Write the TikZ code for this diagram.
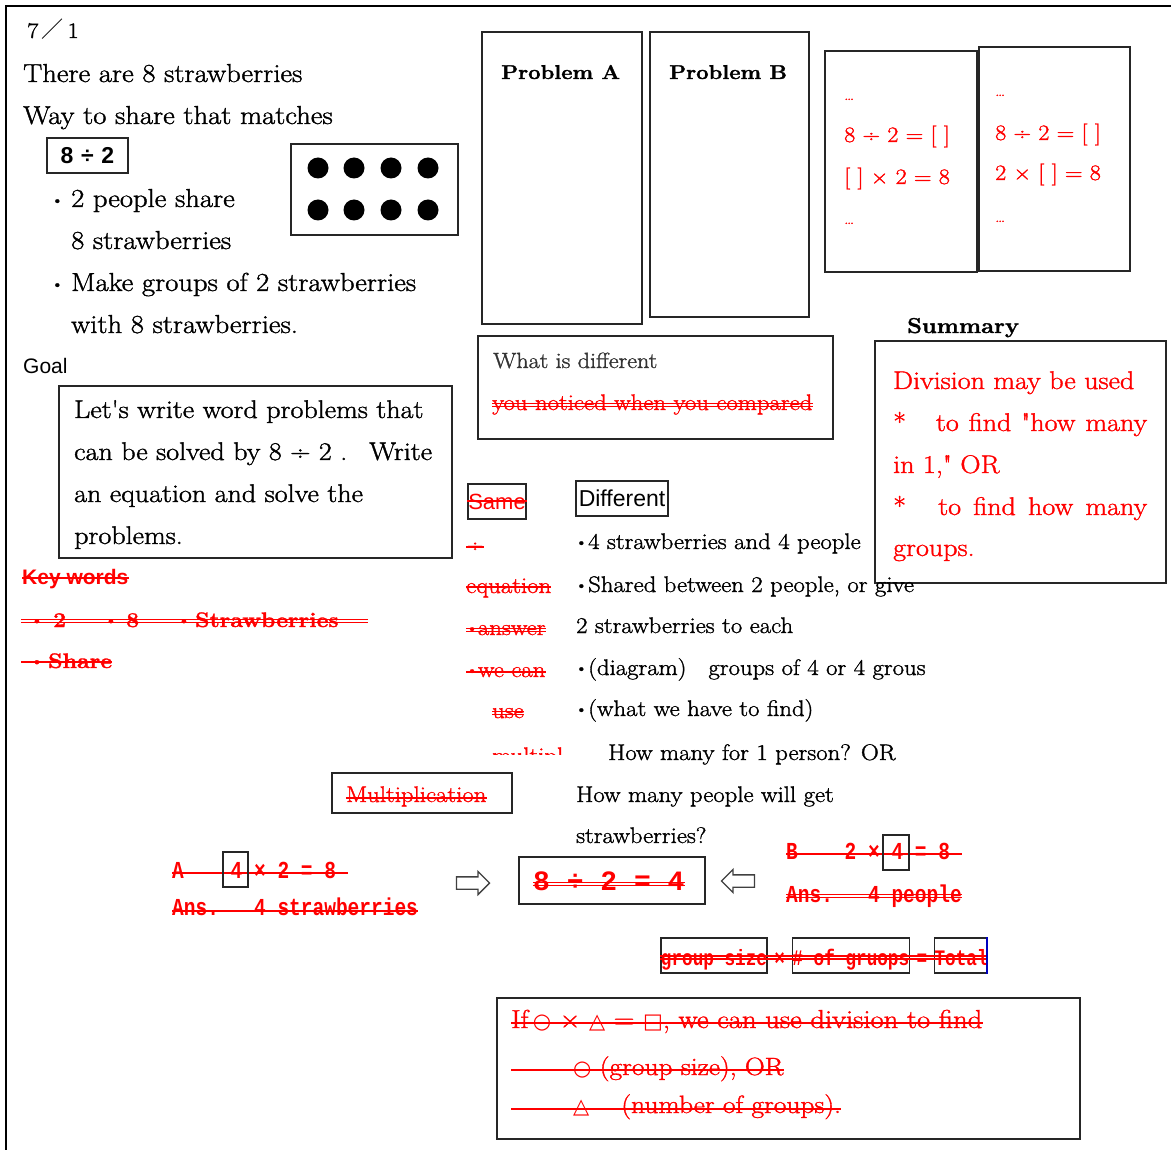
\documentclass[tikz,border=0pt]{standalone}
\usepackage{fontspec}
\usepackage{graphicx}
\setmainfont{Latin Modern Roman}[FakeStretch=1.1, FakeBold=1.4]
\setsansfont{Liberation Sans}
\setmonofont{Liberation Mono}
\newfontfamily\cjkfont{Noto Sans CJK JP}
\newfontfamily\symfont{DejaVu Sans}
\newfontfamily\quotefont{Latin Modern Roman}[FakeStretch=1.1, FakeBold=1.4]
\usetikzlibrary{positioning,calc,shapes.arrows}

\newcommand{\bigsize}{\fontsize{26}{30}\selectfont}
\newcommand{\midsize}{\fontsize{22.5}{27}\selectfont}
\newcommand{\sym}[1]{{\symfont\fontsize{21}{24}\selectfont #1}}
\newcommand{\tall}[1]{\scalebox{1}[1.25]{#1}}
\newcommand{\qq}{{\quotefont\symbol{"22}}}
\newcommand{\apos}{{\quotefont\symbol{"27}}}
\newcommand{\bul}{\raisebox{2.5pt}{\fontsize{14}{14}\selectfont •}}

\tikzset{
    txt/.style={anchor=base west, inner sep=0pt},
    body/.style={txt, font=\bigsize},
    note/.style={txt, font=\midsize},
    rednote/.style={note, text=red},
    mono/.style={txt, text=red, font=\ttfamily\bfseries\fontsize{19.5}{23}\selectfont},
    frame/.style={draw=black!85, line width=1.3pt, inner sep=0pt},
    gbox/.style={frame, text=red, font=\ttfamily\bfseries\fontsize{17.7}{20}\selectfont,
        minimum height=35, text height=19pt, text depth=0pt},
    hollow/.style={single arrow, draw=black!75, line width=1.3pt, minimum height=33,
        text height=11pt, text depth=0pt, single arrow head extend=5.5pt, inner sep=0pt},
    strikeline/.style={red, line width=1.8pt},
    struck/.style={append after command={([yshift=#1]\tikzlastnode.base west)
        edge[strikeline] ([yshift=#1]\tikzlastnode.base east)}},
    struck/.default=6pt,
    dstruck/.style={append after command={([yshift=#1+1.6pt]\tikzlastnode.base west)
        edge[strikeline, line width=1.1pt] ([yshift=#1+1.6pt]\tikzlastnode.base east)
        ([yshift=#1-1.6pt]\tikzlastnode.base west)
        edge[strikeline, line width=1.1pt] ([yshift=#1-1.6pt]\tikzlastnode.base east)}},
    dstruck/.default=6pt,
}

\begin{document}
\begin{tikzpicture}[x=1pt, y=-1pt]
    \useasboundingbox (0,0) rectangle (1171,1150);
    \draw[line width=1.3pt] (6,1150) -- (6,6) -- (1171,6);

    % Problem.
    \node[txt, font=\fontsize{22}{26}\selectfont] (date) at (27,38) {7\,{\cjkfont ／}\,1};
    \node[body] (count) at (23,82) {There are 8 strawberries};
    \node[body] (way) at (23,124) {Way to share that matches};
    \node[frame, font=\sffamily\bfseries\fontsize{23}{27}\selectfont,
        minimum width=81, minimum height=35] (expr) at (87.5,155.5) {8\,\,÷\,\,2};
    \node[body] (share) at (71,207) {\llap{\bul\hspace{8pt}}2 people share};
    \node[body] (shareb) at (71,249) {8 strawberries};
    \node[body] (groups) at (71,291) {\llap{\bul\hspace{8pt}}Make groups of 2 strawberries};
    \node[body] (groupsb) at (71,333) {with 8 strawberries.};

    % Dot diagram.
    \node[frame, minimum width=167, minimum height=91] (dots) at (374.5,189.5) {};
    \foreach \x in {318,354,391,428}
        \foreach \y in {168,210}
            \fill (\x,\y) circle (10.5pt);

    % Goal.
    \node[txt, font=\sffamily\fontsize{21}{25}\selectfont] (goal) at (23,374) {Goal};
    \node[frame, minimum width=393, minimum height=172] (goalbox) at (255.5,472) {};
    \node[body, font=\fontsize{25.5}{30}\selectfont] (goala) at (74,418) {Let\apos s write word problems that};
    \node[body, font=\fontsize{25.5}{30}\selectfont] (goalb) at (74,460) {can be solved by 8 ÷ 2 .\hspace{22pt}Write};
    \node[body, font=\fontsize{25.5}{30}\selectfont] (goalc) at (74,502) {an equation and solve the};
    \node[body, font=\fontsize{25.5}{30}\selectfont] (goald) at (74,544) {problems.};

    % Key words.
    \node[txt, text=red, font=\sffamily\bfseries\fontsize{21}{25}\selectfont, struck]
        (keys) at (22,584) {Key words};
    \node[txt, text=red, font=\bfseries\fontsize{21}{25}\selectfont, dstruck]
        (keylist) at (21,627) {\hspace{9pt}\makebox[23pt][l]{\bul}\makebox[51pt][l]{2}\makebox[22pt][l]{\bul}\makebox[51pt][l]{8}\makebox[18pt][l]{\bul}\makebox[173pt][l]{Strawberries}};
    \node[txt, text=red, font=\bfseries\fontsize{21}{25}\selectfont, struck]
        (keyshare) at (21,668) {\hspace{9pt}\makebox[18pt][l]{\bul}Share};

    % Problems A and B.
    \node[frame, minimum width=160, minimum height=292] (probA) at (562,178) {};
    \node[txt, font=\bfseries\fontsize{20}{24}\selectfont] (probAtitle) at (501,79) {Problem A};
    \node[frame, minimum width=159, minimum height=285] (probB) at (729.5,174.5) {};
    \node[txt, font=\bfseries\fontsize{20}{24}\selectfont] (probBtitle) at (669,79) {Problem B};

    % Equations.
    \node[frame, minimum width=152, minimum height=221] (eqA) at (901,161.5) {};
    \node[rednote, font=\fontsize{14}{16}\selectfont] (eqAa) at (844,100) {…};
    \node[rednote, font=\fontsize{22}{26}\selectfont] (eqAb) at (844,142) {8 ÷ 2 = [ ]};
    \node[rednote, font=\fontsize{22}{26}\selectfont] (eqAc) at (844,184) {[ ] × 2 = 8};
    \node[rednote, font=\fontsize{14}{16}\selectfont] (eqAd) at (844,224) {…};
    \node[frame, minimum width=151, minimum height=224] (eqB) at (1054.5,159) {};
    \node[rednote, font=\fontsize{14}{16}\selectfont] (eqBa) at (995,96) {…};
    \node[rednote, font=\fontsize{22}{26}\selectfont] (eqBb) at (995,140) {8 ÷ 2 = [ ]};
    \node[rednote, font=\fontsize{22}{26}\selectfont] (eqBc) at (995,180) {2 × [ ] = 8};
    \node[rednote, font=\fontsize{14}{16}\selectfont] (eqBd) at (995,222) {…};

    % What is different.
    \node[frame, minimum width=355, minimum height=103] (diffbox) at (655.5,387.5) {};
    \node[txt, font=\fontsize{22}{26}\selectfont, text=black!80] (diffa) at (493,368) {What is different};
    \node[rednote, font=\fontsize{22.5}{26}\selectfont, dstruck=5pt] (diffb) at (492,410) {you noticed when you compared};

    % Summary.
    \node[txt, font=\bfseries\fontsize{21.5}{26}\selectfont] (sumtitle) at (907,333) {Summary};
    \node[frame, minimum width=291, minimum height=242] (sumbox) at (1020.5,462) {};
    \node[txt, text=red, font=\fontsize{25.5}{30}\selectfont] (suma) at (893,389) {Division may be used};
    \node[txt, text=red, font=\fontsize{25.5}{30}\selectfont] (sumb) at (893,431)
        {\makebox[254pt][s]{*\hspace{20pt} to find \qq how many}};
    \node[txt, text=red, font=\fontsize{25.5}{30}\selectfont] (sumc) at (893,473) {in 1,\qq{} OR};
    \node[txt, text=red, font=\fontsize{25.5}{30}\selectfont] (sumd) at (893,515)
        {\makebox[254pt][s]{*\hspace{20pt} to find how many}};
    \node[txt, text=red, font=\fontsize{25.5}{30}\selectfont] (sume) at (893,556) {groups.};

    % Same.
    \node[frame, text=red, font=\sffamily\fontsize{22}{26}\selectfont,
        minimum width=58, minimum height=35, struck=8pt] (same) at (497,501.5) {Same};
    \node[rednote, struck=5pt] (samediv) at (466,552) {÷};
    \node[rednote, struck] (sameequ) at (466,593) {equation};
    \node[rednote, dstruck=5pt] (sameans) at (466,635) {\bul answer};
    \node[rednote, struck=5pt] (samewe) at (466,677) {\bul we can};
    \node[rednote, dstruck=5pt] (sameuse) at (492,718) {use\hspace{10pt}};
    \begin{scope}
        \clip (488,745) rectangle (566,754);
        \node[rednote] (samemul) at (492,763) {multipl};
    \end{scope}

    % Different.
    \node[frame, font=\sffamily\fontsize{23}{27}\selectfont,
        minimum width=92, minimum height=35] (different) at (622,498.5) {Different};
    \node[note] (diff1) at (588,549) {\llap{\bul\hspace{1pt}}4 strawberries and 4 people};
    \node[note] (diff2) at (588,592) {\llap{\bul\hspace{1pt}}Shared between 2 people, or give};
    \node[note] (diff3) at (576,633) {2 strawberries to each};
    \node[note] (diff4) at (588,675) {\llap{\bul\hspace{1pt}}(diagram)\hspace{22pt}groups of 4 or 4 grous};
    \node[note] (diff5) at (588,716) {\llap{\bul\hspace{1pt}}(what we have to find)};
    \node[note] (diff6) at (608,760) {How many for 1 person? OR};
    \node[note] (diff7) at (576,802) {How many people will get};
    \node[note] (diff8) at (576,843) {strawberries?};

    % Multiplication.
    \node[frame, minimum width=180, minimum height=40] (multbox) at (422,793) {};
    \node[rednote, font=\fontsize{22.5}{26}\selectfont, struck=4pt] (mult) at (346,802) {Multiplication};

    % Equation of problem A.
    \node[mono, struck=5pt] (aeq) at (172,878) {\tall{A~~~~4~×~2~=~8~}};
    \node[frame, minimum width=25, minimum height=35] (afour) at (235.5,869.5) {};
    \node[mono, struck=4pt] (aans) at (172,915) {\tall{Ans.~~~4~strawberries}};
    \node[hollow] (toright) at (470,883) {};

    % Division.
    \node[frame, minimum width=186, minimum height=47] (result) at (612,880.5) {};
    \node[mono, font=\ttfamily\bfseries\fontsize{28}{32}\selectfont, dstruck=6pt]
        (resulteq) at (533,890) {8~÷~2~=~4};

    % Equation of problem B.
    \node[hollow, shape border rotate=180] (toleft) at (741,881) {};
    \node[mono, struck=5pt] (beq) at (786,859) {\tall{B~~~~2~×~4~=~8~}};
    \node[frame, minimum width=26, minimum height=35] (bfour) at (896,852.5) {};
    \node[mono, dstruck=6pt] (bans) at (786,902) {\tall{Ans.~~~4~people}};

    % Group size times number of groups.
    \node[gbox] (gsize) at (714,955.5) {\tall{group~size}};
    \node[gbox, right=24pt of gsize] (gcount) {\tall{\#~of~gruops}};
    \node[gbox, right=24pt of gcount] (gtotal) {\tall{Total}};
    \node[mono, anchor=base, font=\ttfamily\bfseries\fontsize{17.7}{20}\selectfont]
        (gtimes) at ($(gsize.base east)!0.5!(gcount.base west)$) {\tall{×}};
    \node[mono, anchor=base, font=\ttfamily\bfseries\fontsize{17.7}{20}\selectfont]
        (gequals) at ($(gcount.base east)!0.5!(gtotal.base west)$) {\tall{=}};
    \draw[strikeline, line width=1.1pt] ([yshift=9pt]gsize.base west) -- ([yshift=9pt]gtotal.base east)
        ([yshift=6pt]gsize.base west) -- ([yshift=6pt]gtotal.base east);
    \draw[blue!75!black, line width=1.6pt] ([xshift=-1.5pt]gtotal.north east) -- ([xshift=-1.5pt]gtotal.south east);

    % Rule.
    \node[frame, minimum width=583, minimum height=141] (rule) at (788.5,1068.5) {};
    \node[txt, text=red, font=\fontsize{26}{30}\selectfont, struck=5pt] (rulea) at (511,1028)
        {If\,\sym{○}~×~\sym{△}~=~\sym{□}, we can use division to find};
    \node[txt, text=red, font=\fontsize{25}{30}\selectfont, struck=5pt] (ruleb) at (511,1075)
        {\hspace{62pt}\sym{○} (group size), OR};
    \node[txt, text=red, font=\fontsize{25}{30}\selectfont, struck=4pt] (rulec) at (511,1113)
        {\hspace{62pt}\sym{△}\hspace{32pt}(number of groups).};
\end{tikzpicture}
\end{document}
